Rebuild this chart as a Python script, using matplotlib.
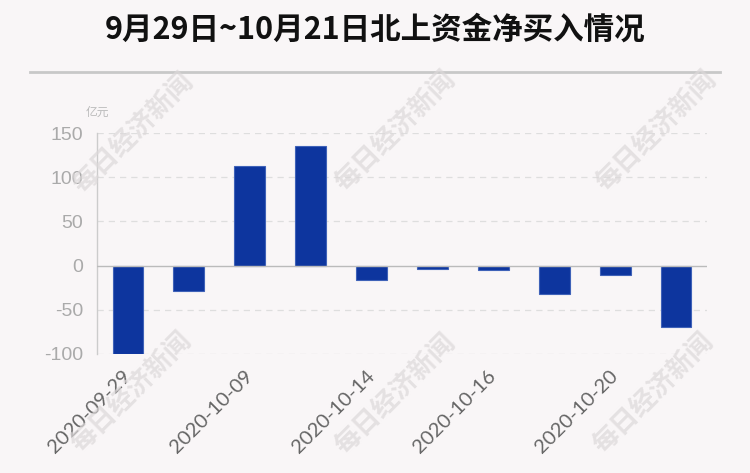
import matplotlib
matplotlib.use("Agg")
import matplotlib.pyplot as plt
from matplotlib.lines import Line2D

dates = ["2020-09-29", "2020-09-30", "2020-10-09", "2020-10-12", "2020-10-14",
         "2020-10-15", "2020-10-16", "2020-10-19", "2020-10-20", "2020-10-21"]
values = [-99.9, -29.1, 112.6, 134.9, -15.9, -3.8, -5.3, -32.5, -11.0, -69.6]
yticks = [-100, -50, 0, 50, 100, 150]
title = "9月29日~10月21日北上资金净买入情况"
unit = "亿元"
watermark = "每日经济新闻"

bg = "#f9f6f7"
plt.rcParams['font.family'] = ['Noto Sans CJK SC', 'DejaVu Sans']

fig = plt.figure(figsize=(7.5, 4.73), dpi=100, facecolor=bg)
ax = fig.add_axes([0.1297, 0.2516, 0.9423 - 0.1297, 0.7188 - 0.2516])
ax.set_facecolor(bg)

x = list(range(len(dates)))
ax.bar(x, values, width=0.5, color="#0d359e", edgecolor="#3f62b8", linewidth=0.8, zorder=3)

ax.set_xlim(-0.5, len(dates) - 0.5)
ax.set_ylim(-100, 150)
ax.set_yticks(yticks)
ax.set_yticklabels([str(v) for v in yticks], fontfamily=["Liberation Sans"], fontsize=14, color="#aaaaaa")
for v in yticks:
    if v != 0:
        ax.axhline(v, color="#dedede", lw=0.9, ls=(0, (5, 4)), zorder=1)
ax.axhline(0, color="#bbbbbb", lw=1.0, zorder=4)

ax.set_xticks(x[::2])
ax.set_xticklabels(dates[::2], rotation=45, ha="right", va="center", rotation_mode="anchor",
                   fontfamily=["Lato", "DejaVu Sans"], fontsize=14.5, color="#666666")
ax.tick_params(axis="y", length=0, pad=10)
ax.tick_params(axis="x", length=0, pad=14)
for s in ["top", "right", "bottom"]:
    ax.spines[s].set_visible(False)
ax.spines["left"].set_color("#cccccc")
ax.spines["left"].set_linewidth(1.0)

fig.text(0.1297, 1 - 112 / 473, unit, fontsize=8.5, color="#bbbbbb", ha="center", va="center")

fig.text(0.5, 1 - 30 / 473, title, fontsize=22, fontweight="bold", color="#111111", ha="center", va="center")
fig.add_artist(Line2D([0.04, 0.96], [0.848, 0.848], color="#c8c8c8", lw=2, transform=fig.transFigure))

for (cx, cy) in [(133, 133), (395, 131), (656, 131), (131, 392), (395, 394), (653, 393)]:
    fig.text(cx / 750, 1 - cy / 473, watermark, fontsize=19, fontweight="bold", color="#dcd8d9",
             alpha=0.7, rotation=45, ha="center", va="center", zorder=10)

fig.savefig("out.png", dpi=100, facecolor=bg)
